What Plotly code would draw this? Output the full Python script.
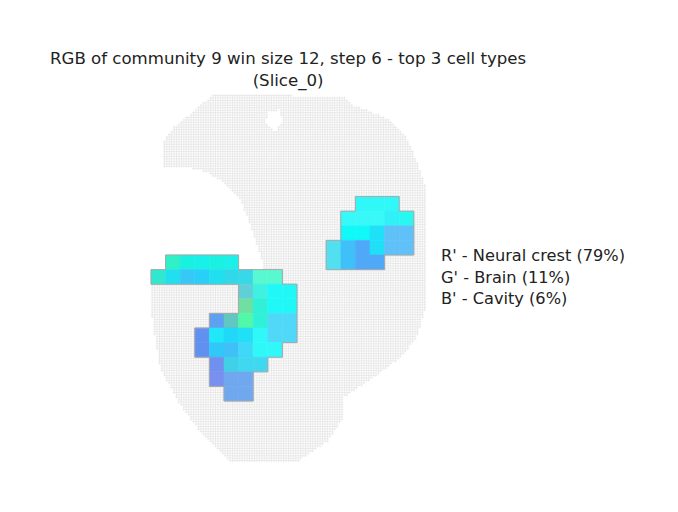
import numpy as np
import plotly.graph_objects as go

# ---- data ----
title_lines = ["RGB of community 9 win size 12, step 6 - top 3 cell types", "(Slice_0)"]
legend_lines = ["R' - Neural crest (79%)", "G' - Brain (11%)", "B' - Cavity (6%)"]

# windows: (row, first column, colours along the row); grid step = 6 cells
win_rows = [
    (-4, 14, ["#30f8f8", "#30f8f8", "#30f8f8"]),
    (-3, 13, ["#38f8f8", "#38f8f8", "#38f8f8", "#30f0f8", "#28f8f0"]),
    (-2, 13, ["#10f8f8", "#10f8f8", "#20e0f8", "#60c0f8", "#60c0f8"]),
    (-1, 12, ["#50e0f0", "#40c0f8", "#50a8f8", "#20e0f8", "#60c0f8", "#60c0f8"]),
    (0, 12, ["#50e0f0", "#40c0f8", "#50a8f8", "#50a8f8"]),
    (0, 1, ["#30f0c8", "#18f0e0", "#18f0e8", "#1cf0e0", "#1cf0e8"]),
    (1, 0, ["#30e8d0", "#20e0f0", "#38c8f8", "#28d0f8", "#20e0f0", "#30d8e8", "#38d8e8", "#58f8d0", "#58f8d0"]),
    (2, 6, ["#60d0d8", "#40f0e0", "#20f8f8", "#20f8f8"]),
    (3, 6, ["#70e0a0", "#30f0d8", "#20f8f8", "#20f8f8"]),
    (4, 4, ["#60a0f0", "#60c8c0", "#50f8a8", "#30f0d8", "#50d8f8", "#50d8f8"]),
    (5, 3, ["#6090f0", "#20e8f8", "#20d8f8", "#20e0f8", "#30f8f8", "#50d8f8", "#50d8f8"]),
    (6, 3, ["#6090f0", "#30c8f8", "#40c0f8", "#40d8f8", "#30f8f8", "#30f8f8"]),
    (7, 4, ["#7090f0", "#40d0e8", "#40d8f0", "#40d8f0"]),
    (8, 4, ["#7890f0", "#70a8f0", "#70a8f0"]),
    (9, 5, ["#70a8f0", "#70a8f0"]),
]

# tissue outline (pixel-read points, converted to cell units below)
outline_px = [(212, 95), (343, 96), (353, 105), (387, 118), (407, 138), (417, 162), (425, 185),
              (427, 235), (427, 302), (417, 338), (400, 358), (373, 378), (343, 398), (343, 418),
              (327, 442), (297, 462), (230, 462), (203, 435), (180, 405), (160, 368), (152, 318),
              (152, 278), (262, 278), (263, 265), (257, 245), (250, 225), (240, 198), (227, 185),
              (207, 172), (190, 168), (163, 168), (163, 142), (173, 128), (193, 112)]
hole_px = [(268, 112), (280, 110), (282, 122), (275, 132), (266, 122)]

# ---- geometry ----
OFF = 8  # page body margin
S = 14.6 / 6.0
X0, Y0 = 151.0, 255.0
STEP = 6

def to_cell(pts):
    a = np.array(pts, float)
    return (a[:, 0] - X0) / S, (a[:, 1] - Y0) / S

def inside(px, py, poly_x, poly_y):
    res = np.zeros(px.shape, bool)
    n = len(poly_x)
    j = n - 1
    for i in range(n):
        xi, yi, xj, yj = poly_x[i], poly_y[i], poly_x[j], poly_y[j]
        cond = ((yi > py) != (yj > py)) & (px < (xj - xi) * (py - yi) / (yj - yi + 1e-12) + xi)
        res ^= cond
        j = i
    return res

ox, oy = to_cell(outline_px)
hx, hy = to_cell(hole_px)
gx, gy = np.meshgrid(np.arange(-1, 115) + 0.5, np.arange(-70, 90) + 0.5)
gx, gy = gx.ravel(), gy.ravel()
m = inside(gx, gy, ox, oy) & ~inside(gx, gy, hx, hy)

fig = go.Figure()
fig.add_trace(go.Scatter(x=gx[m], y=gy[m], mode="markers", hoverinfo="skip",
                         marker=dict(symbol="cross-thin", size=2, line=dict(width=0.5, color="#dcdcdc"))))

cells = {}
for r, c0, cols in win_rows:
    for k, col in enumerate(cols):
        cells[(r, c0 + k)] = col

shapes = []
for (r, c), col in cells.items():
    shapes.append(dict(type="rect", xref="x", yref="y", x0=c * STEP, x1=(c + 1) * STEP,
                       y0=r * STEP, y1=(r + 1) * STEP, fillcolor=col,
                       line=dict(width=0.6, color=col), layer="above"))
for (r, c) in cells:
    edges = []
    if (r - 1, c) not in cells: edges.append((c, r, c + 1, r))
    if (r + 1, c) not in cells: edges.append((c, r + 1, c + 1, r + 1))
    if (r, c - 1) not in cells: edges.append((c, r, c, r + 1))
    if (r, c + 1) not in cells: edges.append((c + 1, r, c + 1, r + 1))
    for a, b, e, d in edges:
        shapes.append(dict(type="line", xref="x", yref="y", x0=a * STEP, y0=b * STEP,
                           x1=e * STEP, y1=d * STEP, line=dict(width=1, color="#a8a8a8"), layer="above"))

W, H = 678, 512
L, R, T, B = 100, 198, 80, 32   # in screenshot pixels
fig.update_layout(
    width=W, height=H, margin=dict(l=L - OFF, r=R + OFF, t=T - OFF, b=B + OFF),
    plot_bgcolor="white", paper_bgcolor="white", showlegend=False, shapes=shapes,
    font=dict(family="DejaVu Sans", color="#222222"),
    xaxis=dict(range=[(L - X0) / S, (W - R - X0) / S], visible=False),
    yaxis=dict(range=[(H - B - Y0) / S, (T - Y0) / S], visible=False),
)
pw, ph = W - L - R, H - T - B
fig.add_annotation(text="<br>".join(title_lines), xref="paper", yref="paper",
                   x=(288 - L) / pw, y=1 + (T - 47) / ph,
                   xanchor="center", yanchor="top", showarrow=False, font=dict(size=16.6))
for i, t in enumerate(legend_lines):
    fig.add_annotation(text=t, xref="paper", yref="paper",
                       x=(439 - L) / pw, y=1 - (256 + 21 * i - T) / ph,
                       xanchor="left", yanchor="middle", showarrow=False, font=dict(size=16.2))
fig.write_html("out.html")
